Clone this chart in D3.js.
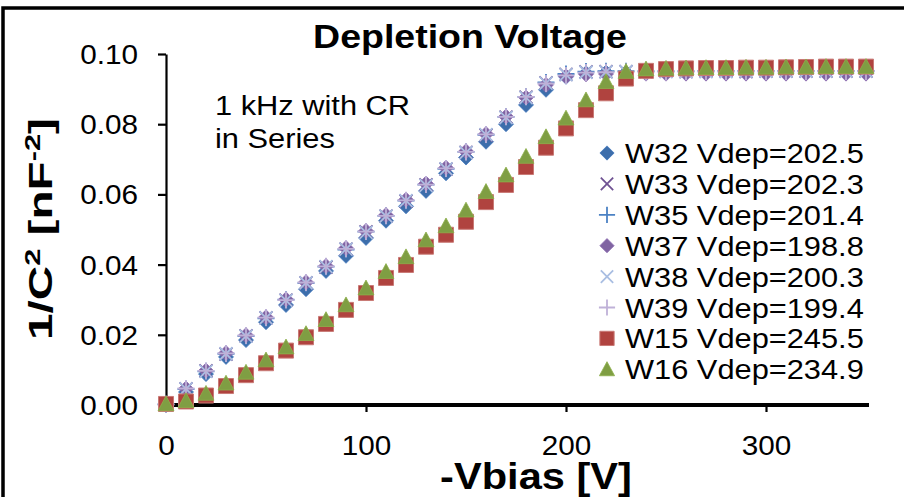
<!DOCTYPE html>
<html>
<head>
<meta charset="utf-8">
<script src="https://cdn.jsdelivr.net/npm/d3@7"></script>
<style>
  body { margin: 0; background: #fff; }
  text { font-family: "Liberation Sans", Arial, sans-serif; fill: #000; }
</style>
</head>
<body>
<div id="chart"></div>
<script>
var svgWidth = 904;
var svgHeight = 497;

// bias voltage steps (V)
var volts = [0, 10, 20, 30, 40, 50, 60, 70, 80, 90, 100, 110, 120, 130, 140, 150, 160, 170,
  180, 190, 200, 210, 220, 230, 240, 250, 260, 270, 280, 290, 300, 310, 320, 330, 340, 350];

// 1/C^2 values (nF^-2)
var w32 = [0, 0.0037, 0.0088, 0.0137, 0.0185, 0.0236, 0.0285, 0.0330, 0.0382, 0.0425, 0.0476, 0.0525,
  0.0566, 0.0610, 0.0660, 0.0705, 0.0750, 0.0800, 0.0855, 0.0898, 0.0935, 0.0945, 0.0947, 0.0947,
  0.0948, 0.0948, 0.0948, 0.0948, 0.0948, 0.0948, 0.0948, 0.0948, 0.0949, 0.0949, 0.0949, 0.0949];
var w33 = [0.0002, 0.0046, 0.0097, 0.0145, 0.0197, 0.0248, 0.0299, 0.0348, 0.0393, 0.0444, 0.0493, 0.0538,
  0.0581, 0.0627, 0.0672, 0.0720, 0.0769, 0.0820, 0.0877, 0.0918, 0.0942, 0.0949, 0.0950, 0.0950,
  0.0950, 0.0951, 0.0950, 0.0951, 0.0951, 0.0950, 0.0951, 0.0951, 0.0951, 0.0951, 0.0951, 0.0951];
var w35 = [0.0002, 0.0045, 0.0096, 0.0146, 0.0196, 0.0247, 0.0300, 0.0347, 0.0394, 0.0443, 0.0494, 0.0539,
  0.0582, 0.0628, 0.0673, 0.0721, 0.0770, 0.0821, 0.0878, 0.0919, 0.0943, 0.0950, 0.0951, 0.0951,
  0.0951, 0.0951, 0.0951, 0.0952, 0.0952, 0.0952, 0.0952, 0.0952, 0.0952, 0.0952, 0.0952, 0.0952];
var w37 = [0.0002, 0.0047, 0.0098, 0.0148, 0.0199, 0.0250, 0.0301, 0.0350, 0.0396, 0.0447, 0.0496, 0.0541,
  0.0585, 0.0631, 0.0676, 0.0723, 0.0772, 0.0822, 0.0876, 0.0912, 0.0936, 0.0942, 0.0943, 0.0943,
  0.0944, 0.0944, 0.0944, 0.0944, 0.0944, 0.0944, 0.0944, 0.0944, 0.0944, 0.0944, 0.0944, 0.0944];
var w38 = [0.0001, 0.0046, 0.0096, 0.0146, 0.0196, 0.0248, 0.0298, 0.0348, 0.0394, 0.0444, 0.0492, 0.0538,
  0.0582, 0.0626, 0.0673, 0.0719, 0.0770, 0.0819, 0.0876, 0.0917, 0.0941, 0.0948, 0.0949, 0.0950,
  0.0950, 0.0950, 0.0950, 0.0950, 0.0950, 0.0951, 0.0951, 0.0951, 0.0951, 0.0951, 0.0951, 0.0951];
var w39 = [0.0002, 0.0047, 0.0097, 0.0147, 0.0198, 0.0249, 0.0299, 0.0349, 0.0395, 0.0445, 0.0494, 0.0539,
  0.0583, 0.0628, 0.0674, 0.0721, 0.0771, 0.0821, 0.0878, 0.0916, 0.0939, 0.0947, 0.0948, 0.0949,
  0.0949, 0.0949, 0.0950, 0.0950, 0.0950, 0.0950, 0.0950, 0.0950, 0.0950, 0.0950, 0.0950, 0.0950];
var w15 = [0.0003, 0.0010, 0.0027, 0.0054, 0.0085, 0.0119, 0.0155, 0.0193, 0.0231, 0.0271, 0.0319, 0.0362,
  0.0399, 0.0451, 0.0485, 0.0522, 0.0578, 0.0627, 0.0678, 0.0733, 0.0788, 0.0840, 0.0888, 0.0930,
  0.0952, 0.0957, 0.0959, 0.0960, 0.0960, 0.0961, 0.0961, 0.0962, 0.0963, 0.0964, 0.0964, 0.0964];
var w16 = [0.0003, 0.0012, 0.0033, 0.0062, 0.0093, 0.0128, 0.0165, 0.0203, 0.0243, 0.0285, 0.0333, 0.0380,
  0.0422, 0.0470, 0.0510, 0.0555, 0.0608, 0.0655, 0.0708, 0.0764, 0.0817, 0.0869, 0.0921, 0.0950,
  0.0957, 0.0959, 0.0960, 0.0961, 0.0961, 0.0962, 0.0962, 0.0963, 0.0963, 0.0964, 0.0964, 0.0964];

var seriesNames = ["W32 Vdep=202.5", "W33 Vdep=202.3", "W35 Vdep=201.4", "W37 Vdep=198.8",
  "W38 Vdep=200.3", "W39 Vdep=199.4", "W15 Vdep=245.5", "W16 Vdep=234.9"];
var seriesValues = [w32, w33, w35, w37, w38, w39, w15, w16];
var seriesMarkers = ["diamond", "x", "plus", "diamond", "x", "plus", "square", "triangle"];
var seriesColors = ["#3d6eab", "#6f5293", "#4c82c4", "#8064a2", "#a9bee2", "#bfb1d8", "#b0433f", "#7f9e43"];

var yTicks = [0, 0.02, 0.04, 0.06, 0.08, 0.10];
var xTicks = [0, 100, 200, 300];

var plot = { left: 166, right: 866, top: 54, bottom: 405 };
var stretch = 1.1; // text in the picture is a bit wider than normal

var svg = d3.select("#chart").append("svg")
  .attr("width", svgWidth)
  .attr("height", svgHeight);

// outer frame (right and bottom edges fall outside the picture)
svg.append("rect")
  .attr("x", 3).attr("y", 8)
  .attr("width", 1200).attr("height", 1200)
  .attr("fill", "none").attr("stroke", "#000").attr("stroke-width", 3.5);

var x = d3.scaleLinear().domain([0, 350]).range([plot.left, plot.right]);
var y = d3.scaleLinear().domain([0, 0.10]).range([plot.bottom, plot.top]);

function markerPath(type, s) {
  if (type === "diamond") return "M0," + (-s) + "L" + s + ",0L0," + s + "L" + (-s) + ",0Z";
  if (type === "square") return "M" + (-s) + "," + (-s) + "H" + s + "V" + s + "H" + (-s) + "Z";
  if (type === "triangle") return "M0," + (-s) + "L" + s + "," + (s * 0.85) + "L" + (-s) + "," + (s * 0.85) + "Z";
  if (type === "x") return "M" + (-s) + "," + (-s) + "L" + s + "," + s + "M" + (-s) + "," + s + "L" + s + "," + (-s);
  return "M" + (-s) + ",0H" + s + "M0," + (-s) + "V" + s;
}
var markerSize = { diamond: 7.5, square: 7.5, triangle: 8, x: 6.5, plus: 8.5 };

function styleMarker(sel, type, color) {
  if (type === "x" || type === "plus") {
    sel.attr("fill", "none").attr("stroke", color).attr("stroke-width", 1.8);
  } else if (type === "square") {
    sel.attr("fill", color).attr("stroke", "#c97a76").attr("stroke-width", 1);
  } else {
    sel.attr("fill", color).attr("stroke", d3.color(color).brighter(0.3)).attr("stroke-width", 0.8);
  }
}

// axes
var yAxis = svg.append("g")
  .attr("transform", "translate(" + plot.left + ",0)")
  .call(d3.axisLeft(y).tickValues(yTicks).tickFormat(d3.format(".2f")).tickSize(8).tickSizeOuter(0));
yAxis.select(".domain").attr("stroke-width", 2.2);
yAxis.selectAll(".tick line").attr("stroke-width", 2.2);
yAxis.selectAll(".tick text")
  .attr("x", 0).attr("dy", null).attr("y", 9.5)
  .attr("transform", "translate(-28,0) scale(" + stretch + ",1)")
  .style("font-size", "27px").style("font-family", "Liberation Sans, Arial, sans-serif");

var xAxis = svg.append("g")
  .attr("transform", "translate(0," + plot.bottom + ")")
  .call(d3.axisBottom(x).tickValues(xTicks).tickSize(7).tickSizeOuter(0));
xAxis.select(".domain").remove();
xAxis.selectAll(".tick line").attr("stroke-width", 2.2);
xAxis.selectAll(".tick text")
  .attr("dy", null).attr("y", 50)
  .attr("transform", "scale(" + stretch + ",1)")
  .style("font-size", "27px").style("font-family", "Liberation Sans, Arial, sans-serif");
svg.append("line")
  .attr("x1", plot.left - 2).attr("x2", plot.right + 3)
  .attr("y1", plot.bottom).attr("y2", plot.bottom)
  .attr("stroke", "#000").attr("stroke-width", 4);

// data markers, drawn in series order like the original
seriesValues.forEach(function(vals, i) {
  var type = seriesMarkers[i];
  var g = svg.append("g").attr("class", "series s" + i);
  var pts = g.selectAll("path")
    .data(volts.map(function(v, j) { return { v: v, c: vals[j] }; }))
    .enter()
    .append("path")
    .attr("transform", function(d) { return "translate(" + x(d.v) + "," + y(d.c) + ")"; })
    .attr("d", markerPath(type, markerSize[type]));
  styleMarker(pts, type, seriesColors[i]);
});

// text helper: place at (px,py) and widen by k
function addText(px, py, str, size, weight, anchor, k) {
  var t = svg.append("text")
    .attr("transform", "translate(" + px + "," + py + ") scale(" + k + ",1)")
    .attr("text-anchor", anchor)
    .style("font-size", size + "px")
    .style("font-weight", weight)
    .text(str);
  return t;
}

// legend
var legendTop = 153, legendStep = 30.9;
seriesNames.forEach(function(name, i) {
  var type = seriesMarkers[i];
  var ly = legendTop + i * legendStep;
  var m = svg.append("path")
    .attr("transform", "translate(607," + ly + ")")
    .attr("d", markerPath(type, markerSize[type] * 0.95));
  styleMarker(m, type, seriesColors[i]);
  addText(625, ly + 10, name, 28, "normal", "start", stretch);
});

// annotation
addText(215, 115, "1 kHz with CR", 28, "normal", "start", stretch);
addText(215, 148, "in Series", 28, "normal", "start", stretch);

// title
var title = addText(470, 48, "Depletion Voltage", 34, "bold", "middle", 1);
title.attr("transform", "translate(470,48) scale(" + (314 / title.node().getComputedTextLength()) + ",1)");

// x axis title
var xt = addText(536, 489, "-Vbias [V]", 37, "bold", "middle", 1);
xt.attr("transform", "translate(536,489) scale(" + (192 / xt.node().getComputedTextLength()) + ",1)");

// y axis title with superscripts
var yt = svg.append("text")
  .attr("text-anchor", "middle")
  .style("font-size", "34px")
  .style("font-weight", "bold");
yt.append("tspan").text("1/C");
yt.append("tspan").attr("dy", -12).style("font-size", "22px").text("2");
yt.append("tspan").attr("dy", 12).text(" [nF");
yt.append("tspan").attr("dy", -12).style("font-size", "22px").text("-2");
yt.append("tspan").attr("dy", 12).text("]");
var ytLen = yt.node().getBBox().width;
yt.attr("transform", "translate(52,229) rotate(-90) scale(" + (222 / ytLen) + ",1)");
</script>
</body>
</html>
